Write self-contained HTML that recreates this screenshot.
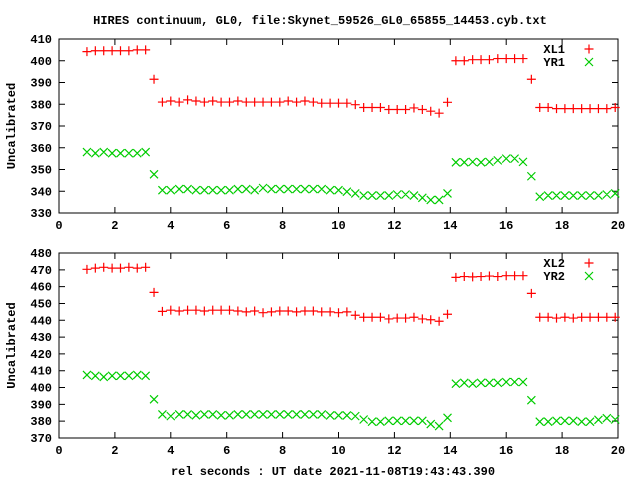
<!DOCTYPE html>
<html><head><meta charset="utf-8"><style>
body{margin:0;background:#fff}
svg text{font-family:"Liberation Mono","DejaVu Sans Mono",monospace;font-weight:bold;font-size:12px;fill:#000}
</style></head><body>
<svg id="c" width="640" height="480" viewBox="0 0 640 480">
<text x="320" y="24" text-anchor="middle">HIRES continuum, GL0, file:Skynet_59526_GL0_65855_14453.cyb.txt</text>
<text x="333" y="475" text-anchor="middle">rel seconds : UT date 2021-11-08T19:43:43.390</text>
</svg>
<script>
const xTicks=[0,2,4,6,8,10,12,14,16,18,20];
const yTicks1=[330,340,350,360,370,380,390,400,410];
const yTicks2=[370,380,390,400,410,420,430,440,450,460,470,480];
const times=[];for(let i=0;i<64;i++)times.push(+(1+0.3*i).toFixed(1));
const xl1=[404.2,404.6,404.6,404.6,404.6,404.6,405,405,391.5,381,381.5,381,382,381.5,381,381.5,381,381,381.5,381,381,381,381,381,381.5,381,381.5,381,380.5,380.5,380.5,380.5,379.8,378.5,378.5,378.5,377.6,377.6,377.6,378.3,377.6,376.8,375.9,380.9,400,400,400.5,400.5,400.5,401,401,401,401,391.5,378.5,378.5,378,378,378,378,378,378,378,378.5];
const yr1=[358,357.5,358,357.5,357.5,357.5,357.5,358,347.8,340.5,340.5,341,341,340.5,340.5,340.5,340.5,340.5,341,341,340.5,341.5,341,341,341,341,341,341,341,340.5,340.5,339.8,339,338,338,338,338,338.5,338.5,338,337,336,336,339,353.3,353.3,353.5,353.3,353.5,354.2,355,355,353.5,346.9,337.5,338,338,338,338,338,338,338,338.5,339];
const xl2=[470.3,471,471.5,471,471,471.5,471,471.5,456.6,445.3,446,445.5,446,446,445.5,446,446,446,445.5,445,445.5,444.5,445,445.5,445.5,445,445.5,445.5,445,445,444.5,445,443,441.8,441.8,441.8,440.8,441.3,441.3,441.8,440.8,440.3,439.4,443.6,465.5,466,465.8,466,466.3,466,466.5,466.5,466.5,456,441.8,441.8,441.3,441.8,441.3,441.8,441.8,441.8,441.8,441.8];
const yr2=[407.5,407,406.3,407,407,407,407.5,407,393,384,383,384,384,383.5,384,384,383.5,383.5,384,384,384,384,384,384,384,384,384,384,384,383.4,383.4,383.4,383,381,379.7,379.7,380.2,380.2,380.2,380.2,380.2,378.3,377.1,382,402.3,402.8,402.3,402.8,402.8,402.8,403.3,403.3,403.3,392.5,379.7,379.7,380.2,380.2,380.2,379.7,379.7,380.8,381.8,381];
const svg=document.getElementById('c');const NS='http://www.w3.org/2000/svg';
function mk(t,a){const e=document.createElementNS(NS,t);for(const k in a)e.setAttribute(k,a[k]);svg.appendChild(e);return e;}
function panel(p){
 const L=59,R=618,T=p.top,B=p.bottom;
 const sx=v=>L+(v-0)/(20-0)*(R-L);
 const sy=v=>B-(v-p.ymin)/(p.ymax-p.ymin)*(B-T);
 const fr=mk('rect',{x:L,y:T,width:R-L,height:B-T,fill:'none',stroke:'#000','stroke-width':1});
 
 
 xTicks.forEach(v=>{const x=sx(v);
  const t=mk('path',{d:`M${x} ${B}v-6M${x} ${T}v6`,stroke:'#000'});
  
  
  const l=mk('text',{x:x,y:B+16,'text-anchor':'middle'});l.textContent=v;
  
  });
 p.ticks.forEach(v=>{const y=sy(v);
  const t=mk('path',{d:`M${L} ${y}h6M${R} ${y}h-6`,stroke:'#000'});
  
  
  const l=mk('text',{x:L-7,y:y+4,'text-anchor':'end'});l.textContent=v;
  
  });
 const yl=mk('text',{x:15,y:(T+B)/2,'text-anchor':'middle',transform:`rotate(-90 15 ${(T+B)/2})`});yl.textContent='Uncalibrated';
 
 
 const plus=(x,y)=>`M${x-4.5} ${y}h9M${x} ${y-4.5}v9`;
 const cross=(x,y)=>`M${x-4} ${y-4}l8 8M${x-4} ${y+4}l8 -8`;
 let d='';times.forEach((t,i)=>{d+=plus(sx(t),sy(p.a[i]));});
 const s1=mk('path',{d:d,stroke:'#f00','stroke-width':1.2,fill:'none'});
 
 
 d='';times.forEach((t,i)=>{d+=cross(sx(t),sy(p.b[i]));});
 const s2=mk('path',{d:d,stroke:'#0c0','stroke-width':1.2,fill:'none'});
 
 
 const l1=mk('text',{x:565,y:T+14,'text-anchor':'end'});l1.textContent=p.na;
 
 
 mk('path',{d:plus(589,T+10),stroke:'#f00','stroke-width':1.2});
 const l2=mk('text',{x:565,y:T+27,'text-anchor':'end'});l2.textContent=p.nb;
 
 
 mk('path',{d:cross(589,T+23),stroke:'#0c0','stroke-width':1.2});
}
panel({id:'top',top:39,bottom:213,ymin:330,ymax:410,ticks:yTicks1,a:xl1,b:yr1,na:'XL1',nb:'YR1'});
panel({id:'bottom',top:253,bottom:438,ymin:370,ymax:480,ticks:yTicks2,a:xl2,b:yr2,na:'XL2',nb:'YR2'});
</script>
</body></html>
